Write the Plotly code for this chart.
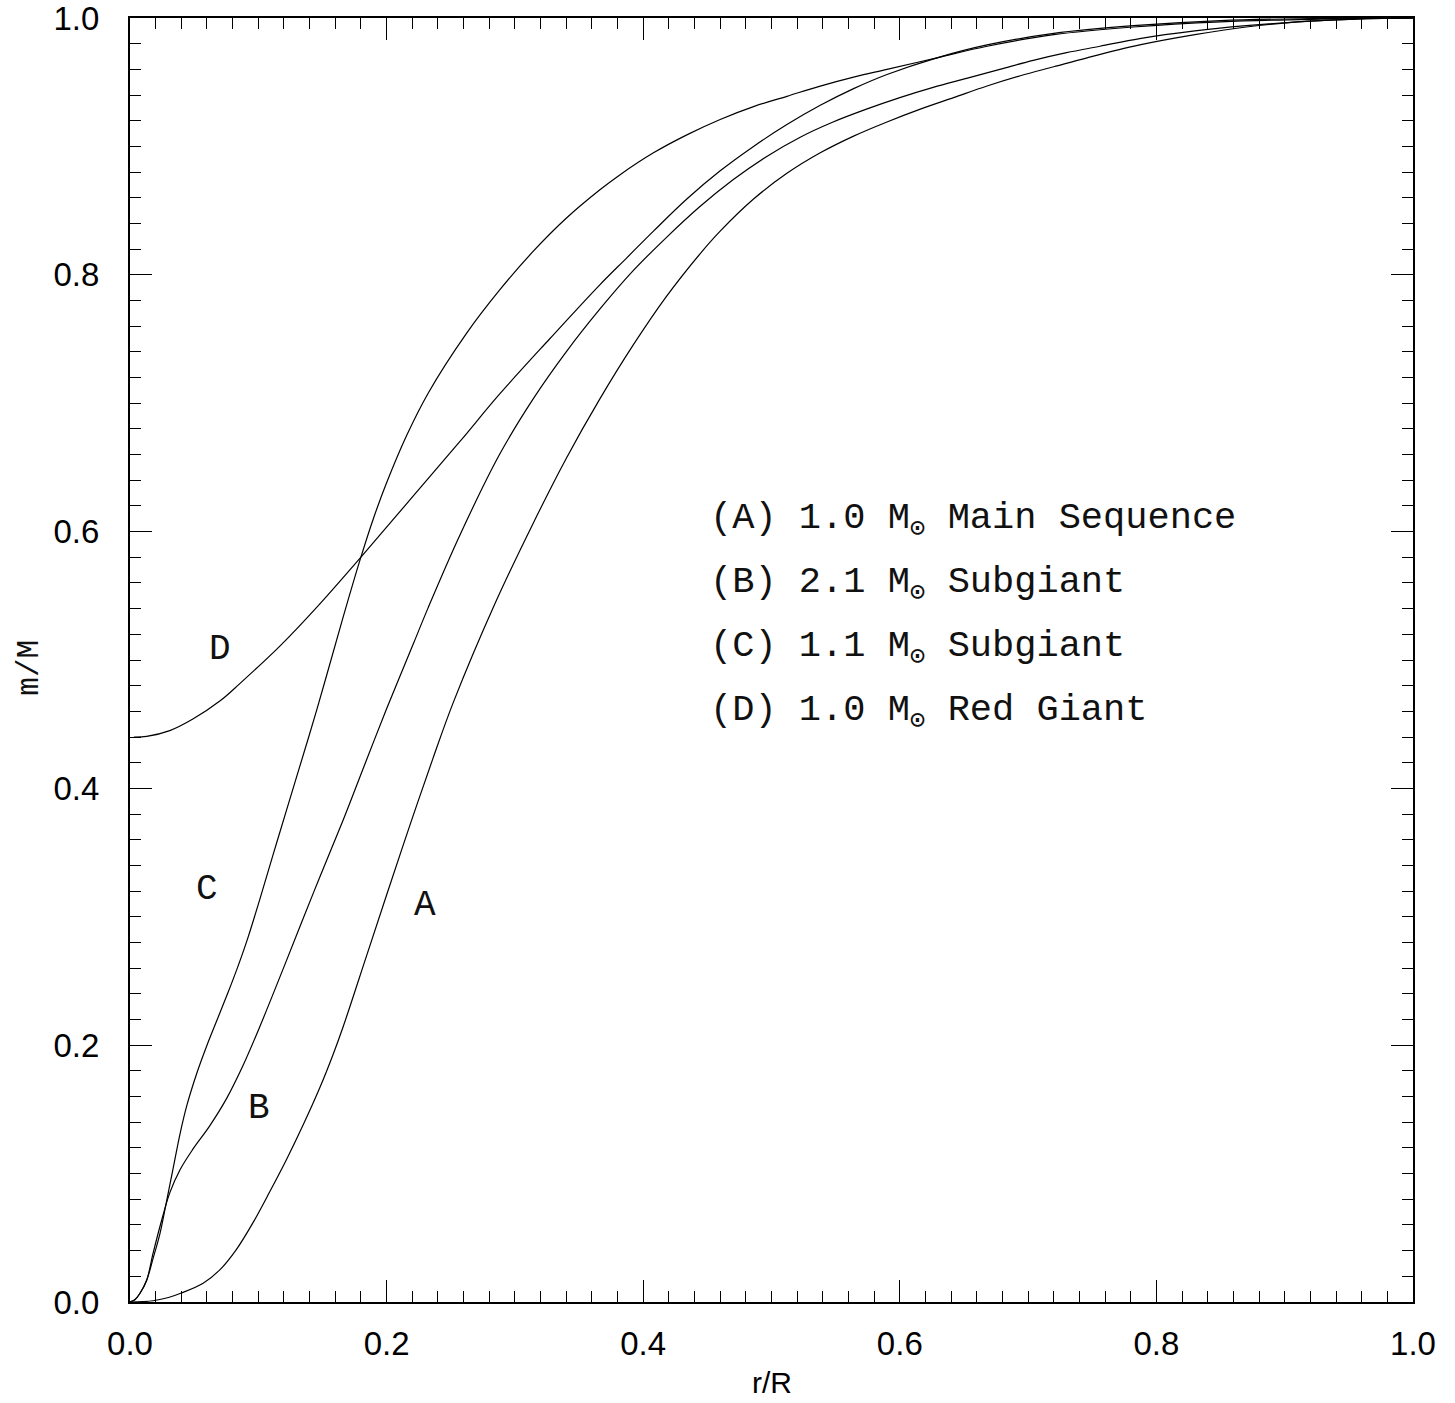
import plotly.graph_objects as go

# Cumulative mass fraction m/M versus fractional radius r/R for four stellar models

# (A) 1.0 Msun main sequence
r_a = [0.0, 0.010, 0.018, 0.030, 0.040, 0.057, 0.070, 0.083, 0.096, 0.109, 0.122, 0.135,
       0.148, 0.158, 0.166, 0.1845, 0.200, 0.213, 0.2235, 0.236, 0.252, 0.2845, 0.314,
       0.340, 0.366, 0.392, 0.418, 0.444, 0.460, 0.486, 0.512, 0.538, 0.564, 0.590,
       0.616, 0.642, 0.668, 0.694, 0.720, 0.746, 0.787, 0.830, 0.870, 0.910, 0.950, 1.0]
m_a = [0.0, 0.0003, 0.001, 0.0035, 0.007, 0.0146, 0.025, 0.041, 0.062, 0.086, 0.111, 0.138,
       0.167, 0.192, 0.214, 0.270, 0.317, 0.356, 0.387, 0.423, 0.467, 0.544, 0.606,
       0.657, 0.703, 0.745, 0.783, 0.816, 0.834, 0.859, 0.879, 0.895, 0.908, 0.919,
       0.929, 0.938, 0.947, 0.955, 0.962, 0.969, 0.979, 0.987, 0.993, 0.997, 0.999, 1.0]

# (B) 2.1 Msun subgiant
r_b = [0.0, 0.004, 0.0078, 0.013, 0.018, 0.0234, 0.031, 0.039, 0.049, 0.062, 0.075, 0.088,
       0.101, 0.120, 0.1435, 0.166, 0.1835, 0.200, 0.221, 0.2325, 0.257, 0.288, 0.314,
       0.340, 0.366, 0.392, 0.418, 0.444, 0.470, 0.496, 0.522, 0.548, 0.574, 0.600,
       0.626, 0.652, 0.678, 0.704, 0.730, 0.756, 0.787, 0.830, 0.870, 0.910, 0.950, 1.0]
m_b = [0.0, 0.002, 0.0068, 0.017, 0.038, 0.059, 0.085, 0.103, 0.119, 0.137, 0.158, 0.184,
       0.214, 0.261, 0.320, 0.375, 0.420, 0.462, 0.513, 0.541, 0.597, 0.660, 0.703,
       0.740, 0.773, 0.803, 0.829, 0.853, 0.874, 0.892, 0.907, 0.919, 0.929, 0.938,
       0.946, 0.953, 0.960, 0.967, 0.973, 0.978, 0.984, 0.990, 0.994, 0.997, 0.999, 1.0]

# (C) 1.1 Msun subgiant
r_c = [0.0, 0.004, 0.0078, 0.013, 0.018, 0.0234, 0.0286, 0.0338, 0.039, 0.044, 0.052, 0.060,
       0.068, 0.076, 0.084, 0.092, 0.101, 0.112, 0.125, 0.1455, 0.166, 0.179, 0.190,
       0.200, 0.2157, 0.2325, 0.262, 0.288, 0.314, 0.340, 0.366, 0.382, 0.408, 0.434,
       0.460, 0.486, 0.512, 0.538, 0.564, 0.590, 0.629, 0.668, 0.720, 0.782, 0.850,
       0.920, 1.0]
m_c = [0.0, 0.002, 0.0068, 0.017, 0.034, 0.0535, 0.079, 0.105, 0.131, 0.152, 0.178, 0.200,
       0.220, 0.240, 0.261, 0.284, 0.313, 0.350, 0.393, 0.461, 0.533, 0.577, 0.611,
       0.638, 0.675, 0.708, 0.754, 0.788, 0.818, 0.844, 0.866, 0.878, 0.895, 0.909,
       0.921, 0.931, 0.939, 0.947, 0.954, 0.960, 0.969, 0.978, 0.987, 0.993, 0.997,
       0.999, 1.0]

# (D) 1.0 Msun red giant (degenerate helium core at the centre)
r_d = [0.003, 0.013, 0.031, 0.049, 0.070, 0.086, 0.117, 0.1455, 0.179, 0.221, 0.257, 0.288,
       0.327, 0.366, 0.387, 0.408, 0.434, 0.460, 0.486, 0.512, 0.538, 0.564, 0.590,
       0.629, 0.668, 0.720, 0.782, 0.850, 0.920, 1.0]
m_d = [0.440, 0.4405, 0.445, 0.454, 0.468, 0.482, 0.511, 0.541, 0.579, 0.628, 0.670, 0.707,
       0.750, 0.792, 0.813, 0.834, 0.859, 0.881, 0.900, 0.917, 0.932, 0.945, 0.956,
       0.969, 0.979, 0.988, 0.994, 0.998, 0.9995, 1.0]

curve_names = ["A", "B", "C", "D"]
curve_label_x = [0.230, 0.1005, 0.060, 0.070]
curve_label_y = [0.309, 0.151, 0.321, 0.5085]

key_lines = [
    "(A) 1.0 M<sub>⊙</sub> Main Sequence",
    "(B) 2.1 M<sub>⊙</sub> Subgiant",
    "(C) 1.1 M<sub>⊙</sub> Subgiant",
    "(D) 1.0 M<sub>⊙</sub> Red Giant",
]
key_x = 0.4505
key_y = [0.609, 0.559, 0.509, 0.4595]

x_tick_vals = [0.0, 0.2, 0.4, 0.6, 0.8, 1.0]
y_tick_vals = [0.0, 0.2, 0.4, 0.6, 0.8, 1.0]
x_tick_text = ["0.0", "0.2", "0.4", "0.6", "0.8", "1.0"]
y_tick_text = ["0.0", "0.2", "0.4", "0.6", "0.8", "1.0"]

SERIF = "Liberation Mono, Courier New, monospace"
SANS = "Liberation Sans, Arial, sans-serif"

fig = go.Figure()
for xs, ys in [(r_a, m_a), (r_b, m_b), (r_c, m_c), (r_d, m_d)]:
    fig.add_trace(go.Scatter(
        x=xs, y=ys, mode="lines",
        line=dict(color="black", width=1.2, shape="spline", smoothing=1.0),
        hoverinfo="skip", showlegend=False,
    ))

annotations = []
for name, lx, ly in zip(curve_names, curve_label_x, curve_label_y):
    annotations.append(dict(
        x=lx, y=ly, xref="x", yref="y", text=name, showarrow=False,
        xanchor="center", yanchor="middle",
        font=dict(family=SERIF, size=36, color="#111"),
    ))
for line, ky in zip(key_lines, key_y):
    annotations.append(dict(
        x=key_x, y=ky, xref="x", yref="y", text=line, showarrow=False,
        xanchor="left", yanchor="middle",
        font=dict(family=SERIF, size=37, color="#111"),
    ))
# axis titles
annotations.append(dict(
    x=0.5, y=-0.063, xref="paper", yref="paper", text="r/R", showarrow=False,
    xanchor="center", yanchor="middle",
    font=dict(family=SANS, size=30, color="black"),
))
annotations.append(dict(
    x=-0.078, y=0.494, xref="paper", yref="paper", text="m/M", showarrow=False,
    xanchor="center", yanchor="middle", textangle=-90,
    font=dict(family=SERIF, size=31, color="#111"),
))

axis_common = dict(
    range=[0, 1], showgrid=False, zeroline=False, automargin=False,
    showline=True, linecolor="black", linewidth=2, mirror="ticks",
    ticks="inside", ticklen=22, tickwidth=1, tickcolor="black",
    tickfont=dict(family=SANS, size=33, color="black"),
    ticklabeloverflow="allow",
    minor=dict(dtick=0.02, ticklen=11, tickwidth=1, tickcolor="black",
               ticks="inside", showgrid=False),
)

fig.update_layout(
    width=1455, height=1403,
    margin=dict(l=130, r=42, t=18, b=101, autoexpand=False),
    paper_bgcolor="white", plot_bgcolor="white",
    showlegend=False,
    xaxis=dict(axis_common, tickvals=x_tick_vals, ticktext=x_tick_text, ticklabelstandoff=11),
    yaxis=dict(axis_common, tickvals=y_tick_vals, ticktext=y_tick_text, ticklabelstandoff=22),
    annotations=annotations,
)

fig.write_html("out.html")
